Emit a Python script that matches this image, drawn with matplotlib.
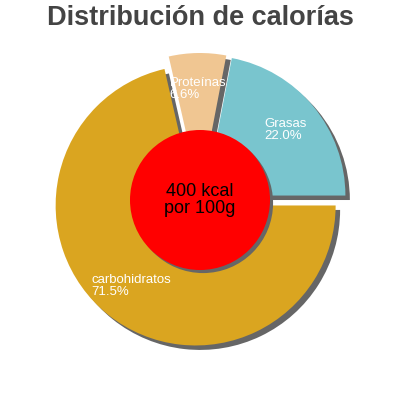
import numpy as np
import matplotlib.pyplot as plt

labels = ["Grasas", "Proteínas", "carbohidratos"]
percents = [22.0, 6.6, 71.5]
colors = ["#79c5ce", "#f0c692", "#daa520"]
title = "Distribución de calorías"
center_text = "400 kcal\npor 100g"

fig = plt.figure(figsize=(4, 4), dpi=100)
ax = fig.add_axes([0, 0, 1, 1])

# Shadow offset is in data units * dpi/72
shadow = {"ox": 0.023, "oy": -0.023, "facecolor": "#666666", "edgecolor": "#666666", "alpha": 1}
texts = ax.pie(percents, labels=[f"{l}\n{p:.1f}%" for l, p in zip(labels, percents)],
               colors=colors, startangle=0, explode=[0.05] * 3, labeldistance=0.74,
               shadow=shadow, wedgeprops={"linewidth": 0})[1]
for t in texts:
    t.set_color("white")
    t.set_fontsize(9.5)
    t.set_ha("center")
    t.set_va("center")
    t.set_multialignment("left")
    t.set_family("Liberation Sans")
    t.set_linespacing(1.0)
    t.set_zorder(5)

# red disc in the middle with its own shadow
disc_shadow = plt.Circle((0.022, -0.022), 0.5, color="#666666", zorder=3, linewidth=0)
disc = plt.Circle((0, 0), 0.5, color="#ff0000", zorder=4, linewidth=0)
ax.add_patch(disc_shadow)
ax.add_patch(disc)
ax.text(0, 0, center_text, ha="center", va="center", fontsize=13,
        family="Liberation Sans", color="black", zorder=6, linespacing=1.0)

lim = 200 / 140
ax.set_xlim(-lim, lim)
ax.set_ylim(-lim, lim)
ax.set_aspect("equal")
ax.axis("off")

fig.text(0.5, 0.9375, title, ha="center", va="baseline", fontsize=19.5, fontweight="bold",
         color="#444444", family="Liberation Sans")

fig.savefig("out.png", dpi=100, facecolor="white")
